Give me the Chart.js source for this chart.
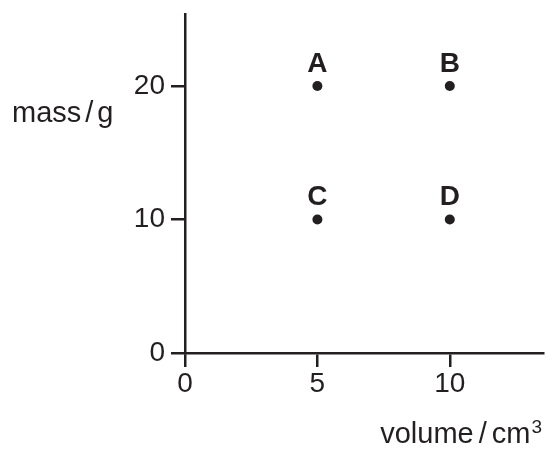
<!DOCTYPE html>
<html>
<head>
<meta charset="utf-8">
<script src="https://cdn.jsdelivr.net/npm/chart.js@4"></script>
<style>
  html, body { margin: 0; padding: 0; background: #fff; }
</style>
</head>
<body>
<canvas id="chart" width="548" height="463"></canvas>
<script>
// Dados
const pointNames = ["A", "B", "C", "D"];
const volumes = [5, 10, 5, 10];
const masses = [20, 20, 10, 10];
const xTickValues = [0, 5, 10];
const yTickValues = [0, 10, 20];
const xTitleParts = ["volume", "/", "cm"];
const xTitleSup = "3";
const yTitleParts = ["mass", "/", "g"];

const ink = "#231f20";
const font = "'Liberation Sans', Arial, Helvetica, sans-serif";

// Desenha um texto em partes com espaço fino entre elas
function partsWidth(ctx, parts, gap) {
  return parts.reduce((w, p) => w + ctx.measureText(p).width, 0) + gap * (parts.length - 1);
}
function drawParts(ctx, parts, x, y, gap) {
  parts.forEach((p) => {
    ctx.fillText(p, x, y);
    x += ctx.measureText(p).width + gap;
  });
  return x - gap;
}

// Plugin para rótulos dos pontos e títulos dos eixos
const labelsPlugin = {
  id: "labels",
  afterDatasetsDraw(chart) {
    const ctx = chart.ctx;
    const xs = chart.scales.x;
    const ys = chart.scales.y;
    ctx.save();
    ctx.fillStyle = ink;
    ctx.font = "bold 28px " + font;
    ctx.textAlign = "center";
    ctx.textBaseline = "alphabetic";
    pointNames.forEach((name, i) => {
      const px = xs.getPixelForValue(volumes[i]);
      const py = ys.getPixelForValue(masses[i]);
      ctx.fillText(name, px, py - 14);
    });

    ctx.textAlign = "left";
    ctx.font = "29px " + font;
    drawParts(ctx, yTitleParts, 12, 122, 4);

    // título do eixo x alinhado à direita, com expoente
    ctx.font = "19px " + font;
    const supW = ctx.measureText(xTitleSup).width;
    ctx.font = "29px " + font;
    const mainW = partsWidth(ctx, xTitleParts, 5);
    const startX = 542 - supW - 1 - mainW;
    const endX = drawParts(ctx, xTitleParts, startX, 443, 5);
    ctx.font = "19px " + font;
    ctx.fillText(xTitleSup, endX + 1, 433);
    ctx.restore();
  }
};

function axisStyle(tickValues, max, padding) {
  return {
    type: "linear",
    min: 0,
    max: max,
    afterBuildTicks: (scale) => {
      scale.ticks = tickValues.map((v) => ({ value: v }));
    },
    ticks: {
      color: ink,
      font: { family: font, size: 28 },
      padding: padding,
      autoSkip: false,
      maxRotation: 0
    },
    grid: {
      display: true,
      drawOnChartArea: false,
      drawTicks: true,
      tickLength: 14,
      color: ink,
      lineWidth: 2.5
    },
    border: { display: true, color: ink, width: 2.5 }
  };
}

const xAxis = axisStyle(xTickValues, 13.52, 0);
xAxis.afterFit = (scale) => {
  scale.height = 110;
  scale.paddingLeft = 0;
  scale.paddingRight = 0;
};
const yAxis = axisStyle(yTickValues, 25.39, 6);
yAxis.afterFit = (scale) => {
  scale.width = 185;
  scale.paddingTop = 0;
  scale.paddingBottom = 0;
};

new Chart(document.getElementById("chart"), {
  type: "scatter",
  data: {
    datasets: [{
      data: volumes.map((v, i) => ({ x: v, y: masses[i] })),
      pointRadius: 5,
      pointBackgroundColor: ink,
      pointBorderWidth: 0
    }]
  },
  options: {
    responsive: false,
    animation: false,
    devicePixelRatio: 1,
    layout: { padding: { top: 14, right: 2, left: 0, bottom: 0 } },
    plugins: { legend: { display: false }, tooltip: { enabled: false } },
    scales: { x: xAxis, y: yAxis }
  },
  plugins: [labelsPlugin]
});
</script>
</body>
</html>
